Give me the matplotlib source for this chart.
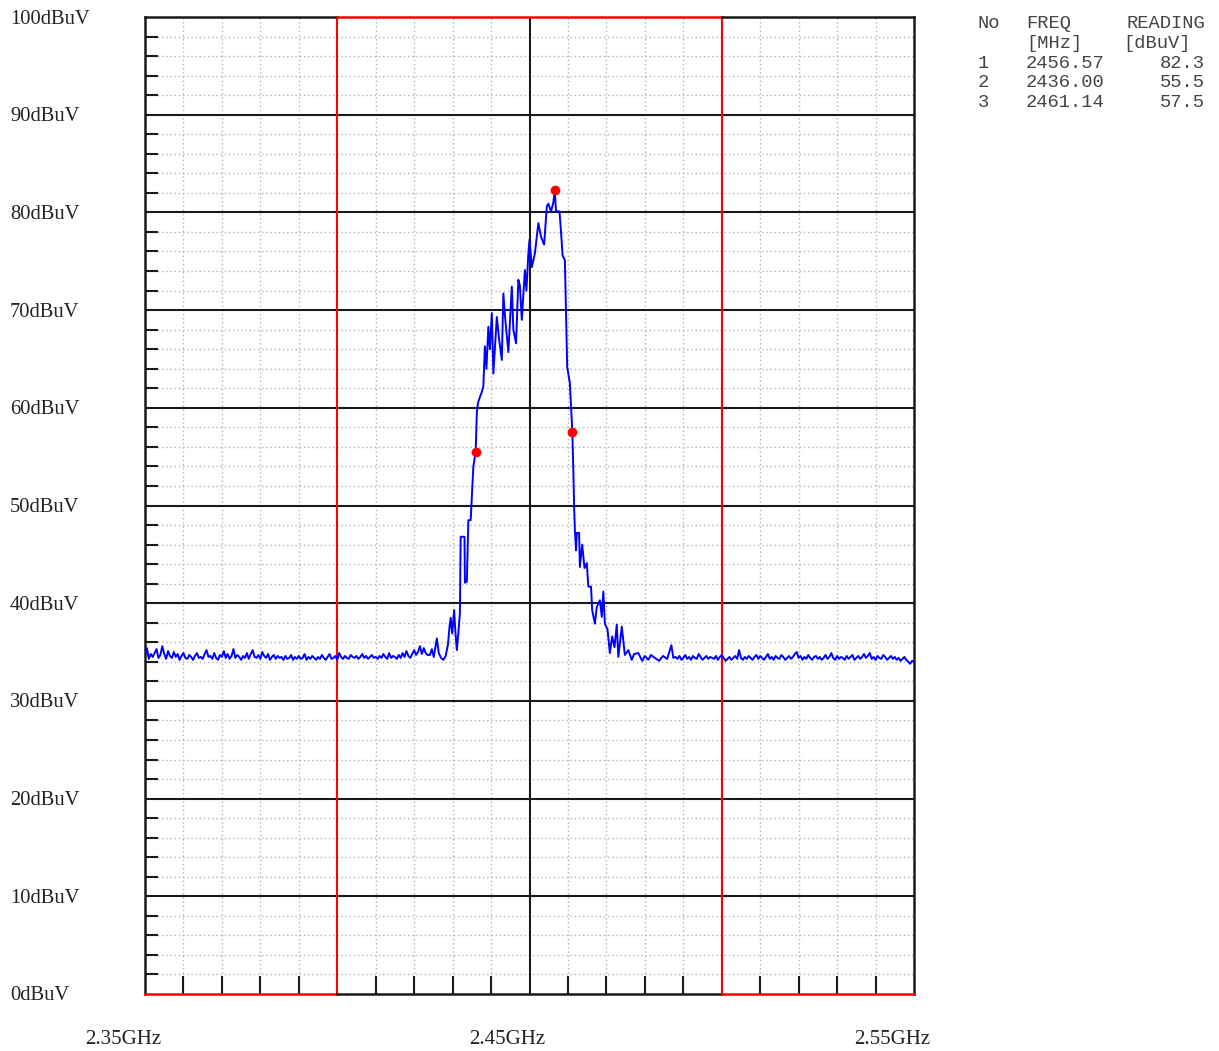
import numpy as np
import matplotlib
matplotlib.use("Agg")
import matplotlib.pyplot as plt
import matplotlib.transforms as mtransforms

# ---------------- data ----------------
X_TICK_LABELS = ["2.35GHz", "2.45GHz", "2.55GHz"]
X_TICK_MHZ = [2350, 2450, 2550]
Y_TICK_LABELS = ["0dBuV", "10dBuV", "20dBuV", "30dBuV", "40dBuV", "50dBuV",
                 "60dBuV", "70dBuV", "80dBuV", "90dBuV", "100dBuV"]
Y_TICK_VALUES = [0, 10, 20, 30, 40, 50, 60, 70, 80, 90, 100]

MARKER_NO = [1, 2, 3]
MARKER_FREQ = [2456.57, 2436.00, 2461.14]
MARKER_LEVEL = [82.3, 55.5, 57.5]

LIMIT_FREQ = [2400, 2500]  # band edges (red lines)

NOISE_LEFT_FREQ = np.arange(2350.0, 2424.0, 0.5)
NOISE_LEFT_LEVEL = [
    34.6, 35.4, 34.3, 34.8, 34.5, 34.9, 35.3, 34.4, 34.7, 35.6,
    34.8, 34.3, 35.1, 34.6, 34.4, 35.0, 34.5, 34.8, 34.2, 34.6,
    34.9, 34.4, 34.3, 34.7, 34.5, 34.2, 34.6, 34.9, 34.4, 34.5,
    34.3, 34.8, 35.2, 34.5, 34.6, 34.3, 34.9, 34.4, 34.2, 34.7,
    34.5, 35.1, 34.4, 34.8, 34.3, 34.6, 35.3, 34.4, 34.7, 34.5,
    34.2, 34.6, 34.4, 34.9, 34.3, 34.8, 35.2, 34.5, 34.4, 34.7,
    34.3, 35.0, 34.6, 34.4, 34.8, 34.2, 34.5, 34.7, 34.3, 34.6,
    34.4, 34.5, 34.2, 34.6, 34.3, 34.4, 34.7, 34.2, 34.5, 34.3,
    34.6, 34.3, 34.4, 34.8, 34.2, 34.5, 34.3, 34.6, 34.4, 34.2,
    34.5, 34.3, 34.7, 34.4, 34.2, 34.5, 34.8, 34.3, 34.4, 34.6,
    34.2, 34.9, 34.5, 34.3, 34.6, 34.4, 34.3, 34.7, 34.5, 34.4,
    34.6, 34.3, 34.5, 34.8, 34.4, 34.6, 34.3, 34.5, 34.7, 34.4,
    34.5, 34.3, 34.6, 34.4, 34.8, 34.5, 34.3, 34.9, 34.4, 34.6,
    34.5, 34.3, 34.7, 34.4, 34.9, 34.5, 35.1, 34.6, 34.4, 34.8,
    35.2, 34.7, 35.0, 35.6, 34.8, 35.4, 34.9, 34.7,
]

SIGNAL_FREQ = [
    2424.1, 2424.6, 2425.1, 2425.9, 2426.4, 2427.0, 2427.6, 2428.2, 2428.8, 2429.2,
    2429.5, 2429.9, 2430.4, 2430.7, 2431.1, 2431.5, 2431.9, 2432.1, 2433.1, 2433.2,
    2433.7, 2434.1, 2434.7, 2435.4, 2436.0, 2436.3, 2436.6, 2437.1, 2437.5, 2438.0,
    2438.4, 2438.8, 2439.3, 2439.7, 2440.2, 2440.6, 2441.5, 2442.1, 2442.8, 2443.2,
    2443.6, 2444.5, 2445.4, 2445.8, 2446.5, 2447.1, 2447.5, 2448.0, 2448.8, 2449.2,
    2449.7, 2450.0, 2450.6, 2451.4, 2452.3, 2453.0, 2453.8, 2454.5, 2454.9, 2455.6,
    2456.2, 2456.57, 2456.9, 2457.8, 2458.2, 2458.6, 2459.2, 2459.8, 2460.5, 2461.14,
    2461.4, 2461.6, 2461.8, 2462.1, 2462.3, 2462.9, 2463.1, 2463.7, 2464.3, 2464.9,
    2465.3, 2466.0, 2466.3, 2467.0, 2467.5, 2468.3, 2468.8, 2469.2, 2469.6, 2470.3,
    2470.9, 2471.5, 2472.1, 2472.7, 2473.1, 2474.0, 2474.8, 2475.7, 2476.6, 2477.2,
    2478.3, 2479.3, 2480.0, 2480.9, 2481.6, 2482.6, 2483.7, 2484.7, 2485.8, 2486.9,
    2487.4,
]
SIGNAL_LEVEL = [
    34.7, 35.3, 34.5, 36.4, 34.9, 34.4, 34.2, 34.6, 35.8, 37.6,
    38.5, 36.9, 39.3, 37.2, 35.2, 37.0, 39.0, 46.8, 46.8, 42.1,
    42.2, 48.5, 48.5, 54.0, 55.5, 59.5, 60.5, 61.1, 61.5, 62.2,
    66.3, 64.0, 68.3, 66.0, 69.7, 63.5, 69.3, 67.0, 64.9, 71.7,
    69.5, 65.7, 72.4, 68.0, 66.6, 73.1, 72.5, 69.0, 74.1, 72.0,
    75.8, 77.2, 74.4, 75.8, 78.9, 77.5, 76.7, 80.6, 80.9, 80.1,
    81.0, 82.3, 80.1, 80.1, 78.0, 75.6, 75.1, 64.2, 62.5, 57.5,
    53.6, 49.9, 47.5, 45.4, 47.2, 47.2, 43.7, 46.0, 43.6, 44.1,
    41.7, 41.7, 39.3, 37.9, 39.6, 40.3, 38.6, 41.2, 37.9, 37.3,
    34.9, 36.6, 35.5, 37.8, 34.5, 37.6, 34.7, 35.2, 34.2, 34.8,
    34.9, 34.1, 34.6, 34.2, 34.7, 34.4, 34.1, 34.6, 34.3, 35.7,
    34.4,
]

NOISE_RIGHT_FREQ = np.arange(2488.0, 2550.01, 0.5)
NOISE_RIGHT_LEVEL = [
    34.5, 34.3, 34.6, 34.2, 34.4, 34.7, 34.3, 34.5, 34.2, 34.6,
    34.4, 34.3, 34.8, 34.5, 34.2, 34.4, 34.6, 34.3, 34.5, 34.4,
    34.3, 34.6, 34.2, 34.5, 34.7, 34.4, 34.1, 34.3, 34.5, 34.2,
    34.4, 34.6, 34.3, 35.2, 34.4, 34.2, 34.5, 34.3, 34.6, 34.4,
    34.2, 34.5, 34.7, 34.3, 34.6, 34.4, 34.2, 34.5, 34.8, 34.3,
    34.5, 34.2, 34.6, 34.4, 34.3, 34.7, 34.5, 34.2, 34.4, 34.6,
    34.3, 34.5, 34.8, 35.0, 34.4, 34.6, 34.2, 34.5, 34.3, 34.7,
    34.4, 34.2, 34.5, 34.6, 34.3, 34.5, 34.2, 34.4, 34.7, 34.3,
    34.5, 34.9, 34.4, 34.2, 34.6, 34.3, 34.5, 34.4, 34.2, 34.6,
    34.3, 34.5, 34.7, 34.2, 34.4, 34.6, 34.3, 34.5, 34.8, 34.4,
    34.6, 34.9, 34.3, 34.5, 34.2, 34.6, 34.4, 34.3, 34.7, 34.5,
    34.2, 34.4, 34.6, 34.3, 34.5, 34.2, 34.4, 34.1, 34.3, 34.5,
    34.2, 34.0, 33.8, 34.1, 34.0,
]

trace_f = np.concatenate([NOISE_LEFT_FREQ, SIGNAL_FREQ, NOISE_RIGHT_FREQ])
trace_l = np.concatenate([NOISE_LEFT_LEVEL, SIGNAL_LEVEL, NOISE_RIGHT_LEVEL])

# ---------------- figure ----------------
W, H = 1219, 1051
fig = plt.figure(figsize=(W / 100, H / 100), dpi=100)
L_PX, R_PX, T_PX, B_PX = 145, 914, 17, 994
ax = fig.add_axes([L_PX / W, 1 - B_PX / H, (R_PX - L_PX) / W, (B_PX - T_PX) / H])
ax.set_xlim(2350, 2550)
ax.set_ylim(0, 100)

GRAY = "#b4b4b4"
RED = "#ff0000"
BLACK = "#1a1a1a"

# minor dotted grid
for v in range(2, 100, 2):
    if v % 10:
        ax.axhline(v, color=GRAY, lw=1.0, ls=(0, (1, 2)), zorder=1)
for f in range(2360, 2550, 10):
    if f not in (2400, 2450, 2500):
        ax.axvline(f, color=GRAY, lw=1.0, ls=(0, (1, 2)), zorder=1)
# major solid grid
for v in range(10, 100, 10):
    ax.axhline(v, color=BLACK, lw=1.5, zorder=2)
ax.axvline(2450, color=BLACK, lw=1.5, zorder=2)
for f in LIMIT_FREQ:
    ax.axvline(f, color=RED, lw=1.5, zorder=3)

# frame
for s in ax.spines.values():
    s.set_visible(False)
ax.plot([2350, 2350], [0, 100], color=BLACK, lw=1.8, clip_on=False, zorder=5)
ax.plot([2550, 2550], [0, 100], color=BLACK, lw=1.8, clip_on=False, zorder=5)
ax.plot([2350, LIMIT_FREQ[0]], [100, 100], color=BLACK, lw=1.8, clip_on=False, zorder=5)
ax.plot([LIMIT_FREQ[0], LIMIT_FREQ[1]], [100, 100], color=RED, lw=1.8, clip_on=False, zorder=5)
ax.plot([LIMIT_FREQ[1], 2550], [100, 100], color=BLACK, lw=1.8, clip_on=False, zorder=5)
ax.plot([2350, LIMIT_FREQ[0]], [0, 0], color=RED, lw=1.8, clip_on=False, zorder=5)
ax.plot([LIMIT_FREQ[0], LIMIT_FREQ[1]], [0, 0], color=BLACK, lw=1.8, clip_on=False, zorder=5)
ax.plot([LIMIT_FREQ[1], 2550], [0, 0], color=RED, lw=1.8, clip_on=False, zorder=5)

# inner ticks
ax.set_xticks([]); ax.set_yticks([])
ytk = [v for v in range(2, 100, 2) if v % 10]
ax.set_yticks(ytk, minor=True)
ax.tick_params(axis="y", which="minor", direction="in", length=9, width=1.5,
               color=BLACK, labelleft=False)
for t, v in zip(ax.yaxis.get_minor_ticks(), ytk):
    if v % 10 == 8:
        t.tick1line.set_color("#bdbdbd")
xtk = [f for f in range(2360, 2550, 10) if f not in (2400, 2450, 2500)]
ax.set_xticks(xtk, minor=True)
ax.tick_params(axis="x", which="minor", direction="in", length=13, width=1.5,
               color=BLACK, labelbottom=False)
for t, f in zip(ax.xaxis.get_minor_ticks(), xtk):
    if f == 2540:
        t.tick1line.set_color("#bdbdbd")

# trace + markers
ax.plot(trace_f, trace_l, color="#0000ff", lw=1.4, zorder=6)
ax.plot(MARKER_FREQ, MARKER_LEVEL, "o", color=RED, ms=7, mec="none", zorder=7)

# axis labels (serif, as in the receiver printout)
serif = "Liberation Serif"
ytrans = ax.get_yaxis_transform() + mtransforms.ScaledTranslation(0, -2 / 100, fig.dpi_scale_trans)
for v, lab in zip(Y_TICK_VALUES, Y_TICK_LABELS):
    ax.text((10 - L_PX) / (R_PX - L_PX), v, lab, transform=ytrans, ha="left",
            va="center", fontsize=14.8, family=serif, color="#222222")
xtrans = ax.get_xaxis_transform() + mtransforms.ScaledTranslation(16 / 100, 0, fig.dpi_scale_trans)
for f, lab in zip(X_TICK_MHZ, X_TICK_LABELS):
    ax.text(f, -(1040 - B_PX) / (B_PX - T_PX), lab, transform=xtrans, ha="right",
            va="center", fontsize=15, family=serif, color="#222222")

# marker table
mono = "Liberation Mono"
tkw = dict(fontsize=13.5, family=mono, color="#444444", va="center")
def ft(xp, yp, s, ha="left"):
    fig.text(xp / W, 1 - yp / H, s, ha=ha, **tkw)
ft(978, 23, "No"); ft(1026, 23, "FREQ"); ft(1205, 23, "READING", ha="right")
ft(1026, 43, "[MHz]"); ft(1123, 43, "[dBuV]")
for i, (n, f, l) in enumerate(zip(MARKER_NO, MARKER_FREQ, MARKER_LEVEL)):
    y = 63 + 19.5 * i
    ft(978, y, f"{n}"); ft(1026, y, f"{f:.2f}"); ft(1205, y, f"{l:.1f}", ha="right")

fig.savefig("out.png", dpi=100, facecolor="white")
